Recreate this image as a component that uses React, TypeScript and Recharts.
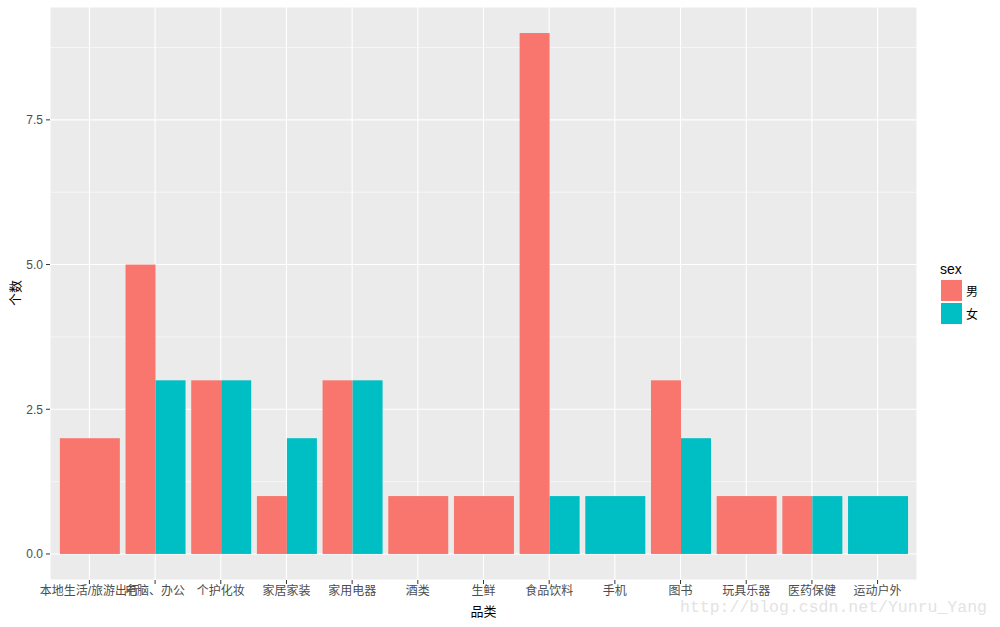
import React from "react";
import {
  BarChart,
  Bar,
  XAxis,
  YAxis,
  CartesianGrid,
  Label
} from "recharts";

const categories = [
  "本地生活/旅游出行",
  "电脑、办公",
  "个护化妆",
  "家居家装",
  "家用电器",
  "酒类",
  "生鲜",
  "食品饮料",
  "手机",
  "图书",
  "玩具乐器",
  "医药保健",
  "运动户外"
];
const male: (number | null)[] = [2, 5, 3, 1, 3, 1, 1, 9, null, 3, 1, 1, null];
const female: (number | null)[] = [null, 3, 3, 2, 3, null, null, 1, 1, 2, null, 1, 1];
const yTicks = [0, 2.5, 5, 7.5];
const minorTicks = [1.25, 3.75, 6.25, 8.75];

const MALE = "#F8766D";
const FEMALE = "#00BFC4";
const FONT = "'Liberation Sans', Arial, 'Noto Sans CJK SC', sans-serif";

const data = categories.map((c, i) => ({ cat: c, male: male[i], female: female[i] }));

// ggplot dodge: a lone bar takes the full slot
const MaleShape = (props: any) => {
  const { x, y, width, height, payload } = props;
  if (payload.male == null) return null;
  const w = payload.female == null ? width * 2 : width;
  return <rect x={x} y={y} width={w} height={height} fill={MALE} />;
};

const FemaleShape = (props: any) => {
  const { x, y, width, height, payload } = props;
  if (payload.female == null) return null;
  const alone = payload.male == null;
  return (
    <rect
      x={alone ? x - width : x}
      y={y}
      width={alone ? width * 2 : width}
      height={height}
      fill={FEMALE}
    />
  );
};

const tickStyle = { fill: "#4D4D4D", fontSize: 12, fontFamily: FONT };

export default function App() {
  return (
    <div style={{ position: "absolute", left: 0, top: 0, width: 1000, height: 627, background: "#fff", fontFamily: FONT }}>
      <BarChart
        width={1000}
        height={627}
        data={data}
        margin={{ top: 7, right: 83, bottom: 7, left: 5 }}
        barCategoryGap="5%"
        barGap={0}
      >
        <CartesianGrid fill="#EBEBEB" stroke="#FFFFFF" strokeWidth={1.1} />
        <CartesianGrid
          vertical={false}
          horizontalValues={minorTicks}
          stroke="#FFFFFF"
          strokeWidth={0.55}
          fill="none"
        />
        <XAxis
          dataKey="cat"
          interval={0}
          height={40}
          padding={{ left: 6.57, right: 6.57 }}
          axisLine={false}
          tickLine={{ stroke: "#333333" }}
          tickSize={4}
          tickMargin={2}
          tick={tickStyle}
        >
          <Label value="品类" position="insideBottom" offset={4} style={{ fill: "#000", fontSize: 13, fontFamily: FONT }} />
        </XAxis>
        <YAxis
          type="number"
          domain={[-0.45, 9.45]}
          allowDataOverflow
          ticks={yTicks}
          tickFormatter={(v: number) => v.toFixed(1)}
          width={45}
          axisLine={false}
          tickLine={{ stroke: "#333333" }}
          tickSize={4}
          tickMargin={3}
          tick={tickStyle}
        />
        <Bar dataKey="male" fill={MALE} shape={MaleShape} isAnimationActive={false} />
        <Bar dataKey="female" fill={FEMALE} shape={FemaleShape} isAnimationActive={false} />
      </BarChart>
      <div
        style={{
          position: "absolute",
          left: 14,
          top: 293,
          transform: "translate(-50%, -50%) rotate(-90deg)",
          fontSize: 13,
          color: "#000",
          whiteSpace: "nowrap"
        }}
      >
        个数
      </div>
      <div style={{ position: "absolute", left: 940, top: 261, fontSize: 14, color: "#000" }}>sex</div>
      {[
        { name: "男", color: MALE },
        { name: "女", color: FEMALE }
      ].map((k, i) => (
        <div key={k.name} style={{ position: "absolute", left: 941, top: 280 + i * 23, display: "flex", alignItems: "center" }}>
          <div style={{ width: 21, height: 21, background: k.color }} />
          <span style={{ marginLeft: 4, fontSize: 12, color: "#000" }}>{k.name}</span>
        </div>
      ))}
      <div
        style={{
          position: "absolute",
          left: 680,
          top: 598,
          fontSize: 16.5,
          color: "#E3E3E3",
          fontFamily: "'Liberation Mono', 'DejaVu Sans Mono', monospace",
          whiteSpace: "nowrap"
        }}
      >
        http://blog.csdn.net/Yunru_Yang
      </div>
    </div>
  );
}
